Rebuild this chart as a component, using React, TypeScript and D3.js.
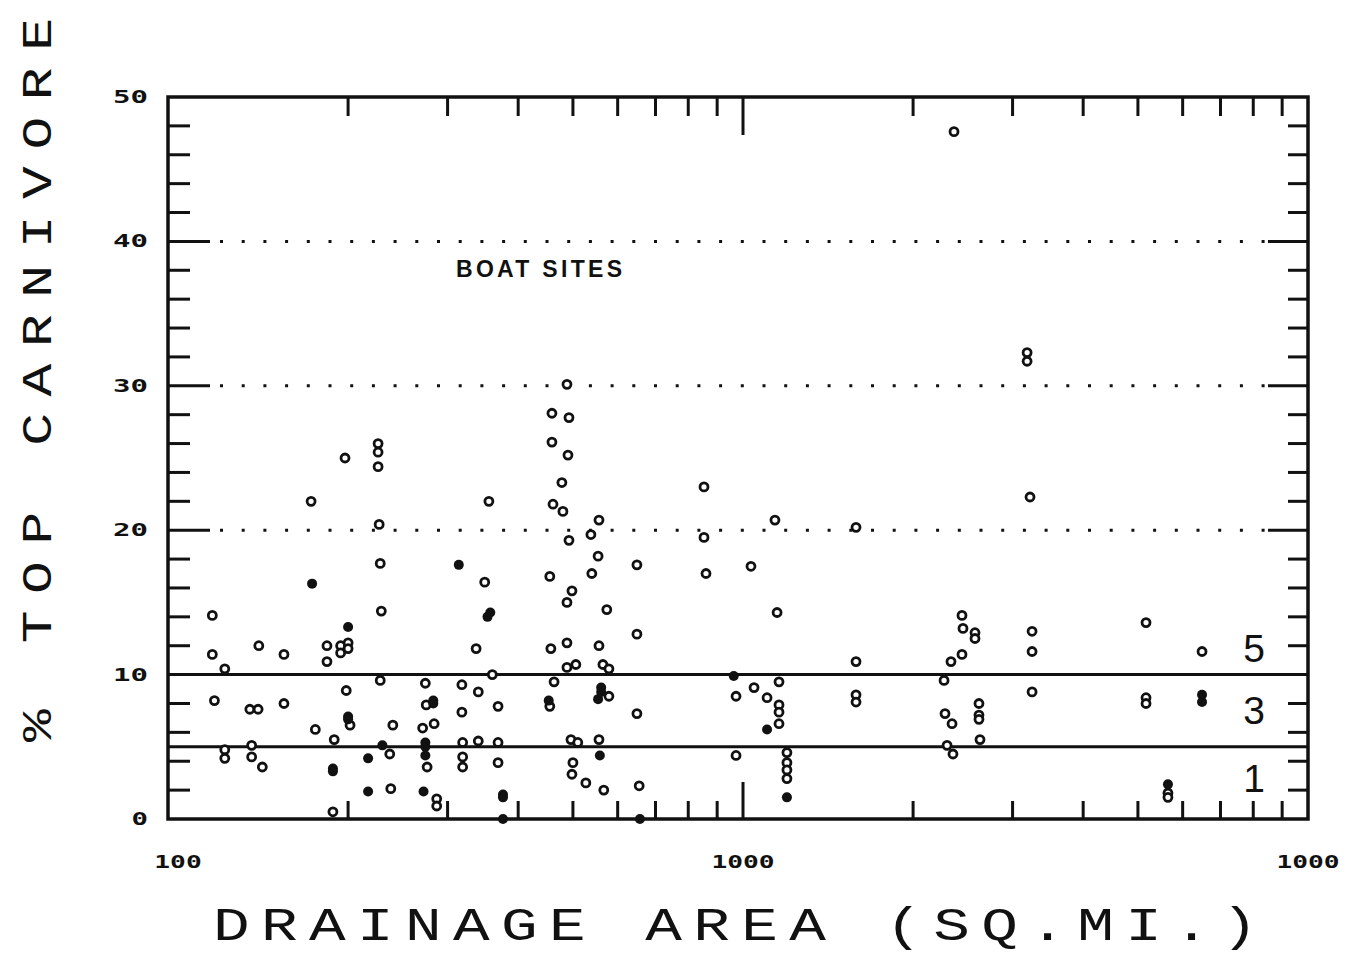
import React from 'react';
import { scaleLog, scaleLinear, range } from 'd3';

// drainage area (sq.mi.) and % top carnivore, open circles
const openArea = [
  197.5, 226, 226, 226, 172, 355, 227, 228, 349, 115, 229, 337, 139, 154, 115, 121,
  183.5, 183.5, 194, 200, 194, 200, 360, 228, 274, 318, 340, 198.5, 116, 134, 138.6, 154,
  275, 318, 368.5, 201.6, 240, 175, 271, 284, 189, 319, 340, 368.5, 135, 121, 121, 135,
  141, 237, 276, 319, 319, 368.5, 238, 287, 287, 188,
  488, 459, 492, 459, 490, 478, 461, 480, 556, 538, 492, 853, 1139, 1585, 853, 554,
  649, 860, 1033, 540, 455, 498, 488, 574, 1149, 649, 457, 488, 556, 488, 506, 565,
  579, 1585, 463, 1158, 579, 972, 1046, 1103, 1158, 1158, 1585, 1585, 649, 1158, 496, 510,
  556, 500, 498, 527, 567, 655, 972, 1196, 1196, 1196, 1196, 455,
  3221, 2441, 2451, 2574, 2574, 2441, 2334, 2269, 3248, 3248, 3248, 5168, 5168, 5168, 6493, 2278,
  2344, 2616, 2616, 2616, 2627, 2297, 2353, 5651, 5651,
  2363, 3183, 3183,
];
const openPct = [
  25.0, 26.0, 25.4, 24.4, 22.0, 22.0, 20.4, 17.7, 16.4, 14.1, 14.4, 11.8, 12.0, 11.4, 11.4, 10.4,
  12.0, 10.9, 12.0, 12.2, 11.5, 11.8, 10.0, 9.6, 9.4, 9.3, 8.8, 8.9, 8.2, 7.6, 7.6, 8.0,
  7.9, 7.4, 7.8, 6.5, 6.5, 6.2, 6.3, 6.6, 5.5, 5.3, 5.4, 5.3, 5.1, 4.8, 4.2, 4.3,
  3.6, 4.5, 3.6, 4.3, 3.6, 3.9, 2.1, 1.4, 0.9, 0.5,
  30.1, 28.1, 27.8, 26.1, 25.2, 23.3, 21.8, 21.3, 20.7, 19.7, 19.3, 23.0, 20.7, 20.2, 19.5, 18.2,
  17.6, 17.0, 17.5, 17.0, 16.8, 15.8, 15.0, 14.5, 14.3, 12.8, 11.8, 12.2, 12.0, 10.5, 10.7, 10.7,
  10.4, 10.9, 9.5, 9.5, 8.5, 8.5, 9.1, 8.4, 7.9, 7.4, 8.6, 8.1, 7.3, 6.6, 5.5, 5.3,
  5.5, 3.9, 3.1, 2.5, 2.0, 2.3, 4.4, 4.6, 3.9, 3.4, 2.8, 7.8,
  22.3, 14.1, 13.2, 12.9, 12.5, 11.4, 10.9, 9.6, 13.0, 11.6, 8.8, 13.6, 8.4, 8.0, 11.6, 7.3,
  6.6, 8.0, 7.2, 6.9, 5.5, 5.1, 4.5, 1.8, 1.5,
  47.6, 32.3, 31.7,
];

// overplotted sites, drawn as solid dots
const solidArea = [
  314, 172.7, 353, 357, 200, 283, 283, 200, 200, 274, 274, 230, 217, 274, 188, 188,
  217, 272, 376, 376, 376,
  963, 561, 554, 561, 453, 1103, 558, 1196, 657,
  6493, 6493, 5651,
];
const solidPct = [
  17.6, 16.3, 14.0, 14.3, 13.3, 8.2, 8.0, 7.1, 6.9, 5.3, 5.0, 5.1, 4.2, 4.4, 3.5, 3.3,
  1.9, 1.9, 1.7, 1.5, 0,
  9.9, 9.1, 8.3, 8.8, 8.2, 6.2, 4.4, 1.5, 0,
  8.6, 8.1, 2.4,
];

const yTickValues = [0, 10, 20, 30, 40, 50];
const xTickValues = [100, 1000, 10000];
const xTickLabels = ['100', '1000', '1000'];
const dottedLevels = [20, 30, 40];
const solidLevels = [5, 10];
const bandLabels = ['5', '3', '1'];
const bandLevels = [11.8, 7.5, 2.8];

const ink = '#111';
const plotterFont = '"Liberation Mono", "DejaVu Sans Mono", monospace';
const tickFont = '"DejaVu Sans Mono", monospace';
const stretch = 1.3;

function App() {
  const left = 168, right = 1308, top = 97, bottom = 819;
  const x = scaleLog().domain([96, 10000]).range([left, right]);
  const y = scaleLinear().domain([0, 50]).range([bottom, top]);

  const minorX = x.ticks().filter(v => v > 100 && v < 10000 && v !== 1000);
  const minorY = range(2, 50, 2).filter(v => v % 10 !== 0);
  const majorY = [10, 20, 30, 40];

  return (
    <svg width={1361} height={956} style={{ position: 'absolute', left: 0, top: 0, background: '#fff' }}>
      {/* frame */}
      <rect x={left} y={top} width={right - left} height={bottom - top} fill="none" stroke={ink} strokeWidth={3.5} />

      {/* x ticks top and bottom */}
      {minorX.map(v => (
        <g key={'mx' + v} stroke={ink} strokeWidth={3}>
          <line x1={x(v)} x2={x(v)} y1={top} y2={top + 19} />
          <line x1={x(v)} x2={x(v)} y1={bottom} y2={bottom - 18} />
        </g>
      ))}
      <g stroke={ink} strokeWidth={3}>
        <line x1={x(1000)} x2={x(1000)} y1={top} y2={top + 38} />
        <line x1={x(1000)} x2={x(1000)} y1={bottom} y2={bottom - 37} />
      </g>

      {/* y ticks left and right */}
      {minorY.map(v => (
        <g key={'my' + v} stroke={ink} strokeWidth={3}>
          <line x1={left} x2={left + 22} y1={y(v)} y2={y(v)} />
          <line x1={right} x2={right - 20} y1={y(v)} y2={y(v)} />
        </g>
      ))}
      {majorY.map(v => (
        <g key={'My' + v} stroke={ink} strokeWidth={3}>
          <line x1={left} x2={left + 42} y1={y(v)} y2={y(v)} />
          <line x1={right} x2={right - 40} y1={y(v)} y2={y(v)} />
        </g>
      ))}

      {/* reference lines */}
      {dottedLevels.map(v => (
        <line key={'d' + v} x1={left + 52} x2={right - 40} y1={y(v)} y2={y(v)}
          stroke={ink} strokeWidth={3} strokeDasharray="3 18.7" />
      ))}
      {solidLevels.map(v => (
        <line key={'s' + v} x1={left} x2={right} y1={y(v)} y2={y(v)} stroke={ink} strokeWidth={3} />
      ))}

      {/* points */}
      {openArea.map((a, i) => (
        <circle key={'o' + i} cx={x(a)} cy={y(openPct[i])} r={4} fill="#fff" stroke={ink} strokeWidth={2.8} />
      ))}
      {solidArea.map((a, i) => (
        <circle key={'f' + i} cx={x(a)} cy={y(solidPct[i])} r={5} fill={ink} />
      ))}

      {/* y tick labels */}
      {yTickValues.map(v => {
        const t = String(v);
        const len = t.length * 18.5;
        return (
          <text key={'yl' + v} x={150 - len} y={y(v) + 6} fontFamily={tickFont} fontWeight="bold"
            fontSize={17} fill={ink} textLength={len - 2} lengthAdjust="spacingAndGlyphs">{t}</text>
        );
      })}

      {/* x tick labels */}
      {xTickValues.map((v, i) => {
        const t = xTickLabels[i];
        const len = t.length * 15.8;
        return (
          <text key={'xl' + v} x={x(v) - len / 2} y={868} fontFamily={tickFont} fontWeight="bold"
            fontSize={17} fill={ink} textLength={len} lengthAdjust="spacingAndGlyphs">{t}</text>
        );
      })}

      {/* annotations */}
      <text x={456} y={277} fontFamily='"Liberation Sans", Arial, sans-serif' fontWeight="bold" fontSize={23}
        fill={ink} textLength={166} lengthAdjust="spacing">BOAT SITES</text>
      {bandLabels.map((t, i) => (
        <text key={'b' + t} x={1254} y={y(bandLevels[i])} dominantBaseline="central" textAnchor="middle"
          fontFamily='"Liberation Sans", Arial, sans-serif' fontSize={39} fill={ink}>{t}</text>
      ))}

      {/* axis titles */}
      <text transform={`scale(${stretch},1)`} x={213 / stretch} y={940} fontFamily={plotterFont} fontSize={47} fill={ink}
        textLength={1045 / stretch} lengthAdjust="spacing">DRAINAGE AREA (SQ.MI.)</text>
      <text transform={`translate(51, 742) rotate(-90) scale(${stretch},1)`} fontFamily={plotterFont} fontSize={42} fill={ink}
        textLength={724 / stretch} lengthAdjust="spacing">% TOP CARNIVORE</text>
    </svg>
  );
}

export default App;
